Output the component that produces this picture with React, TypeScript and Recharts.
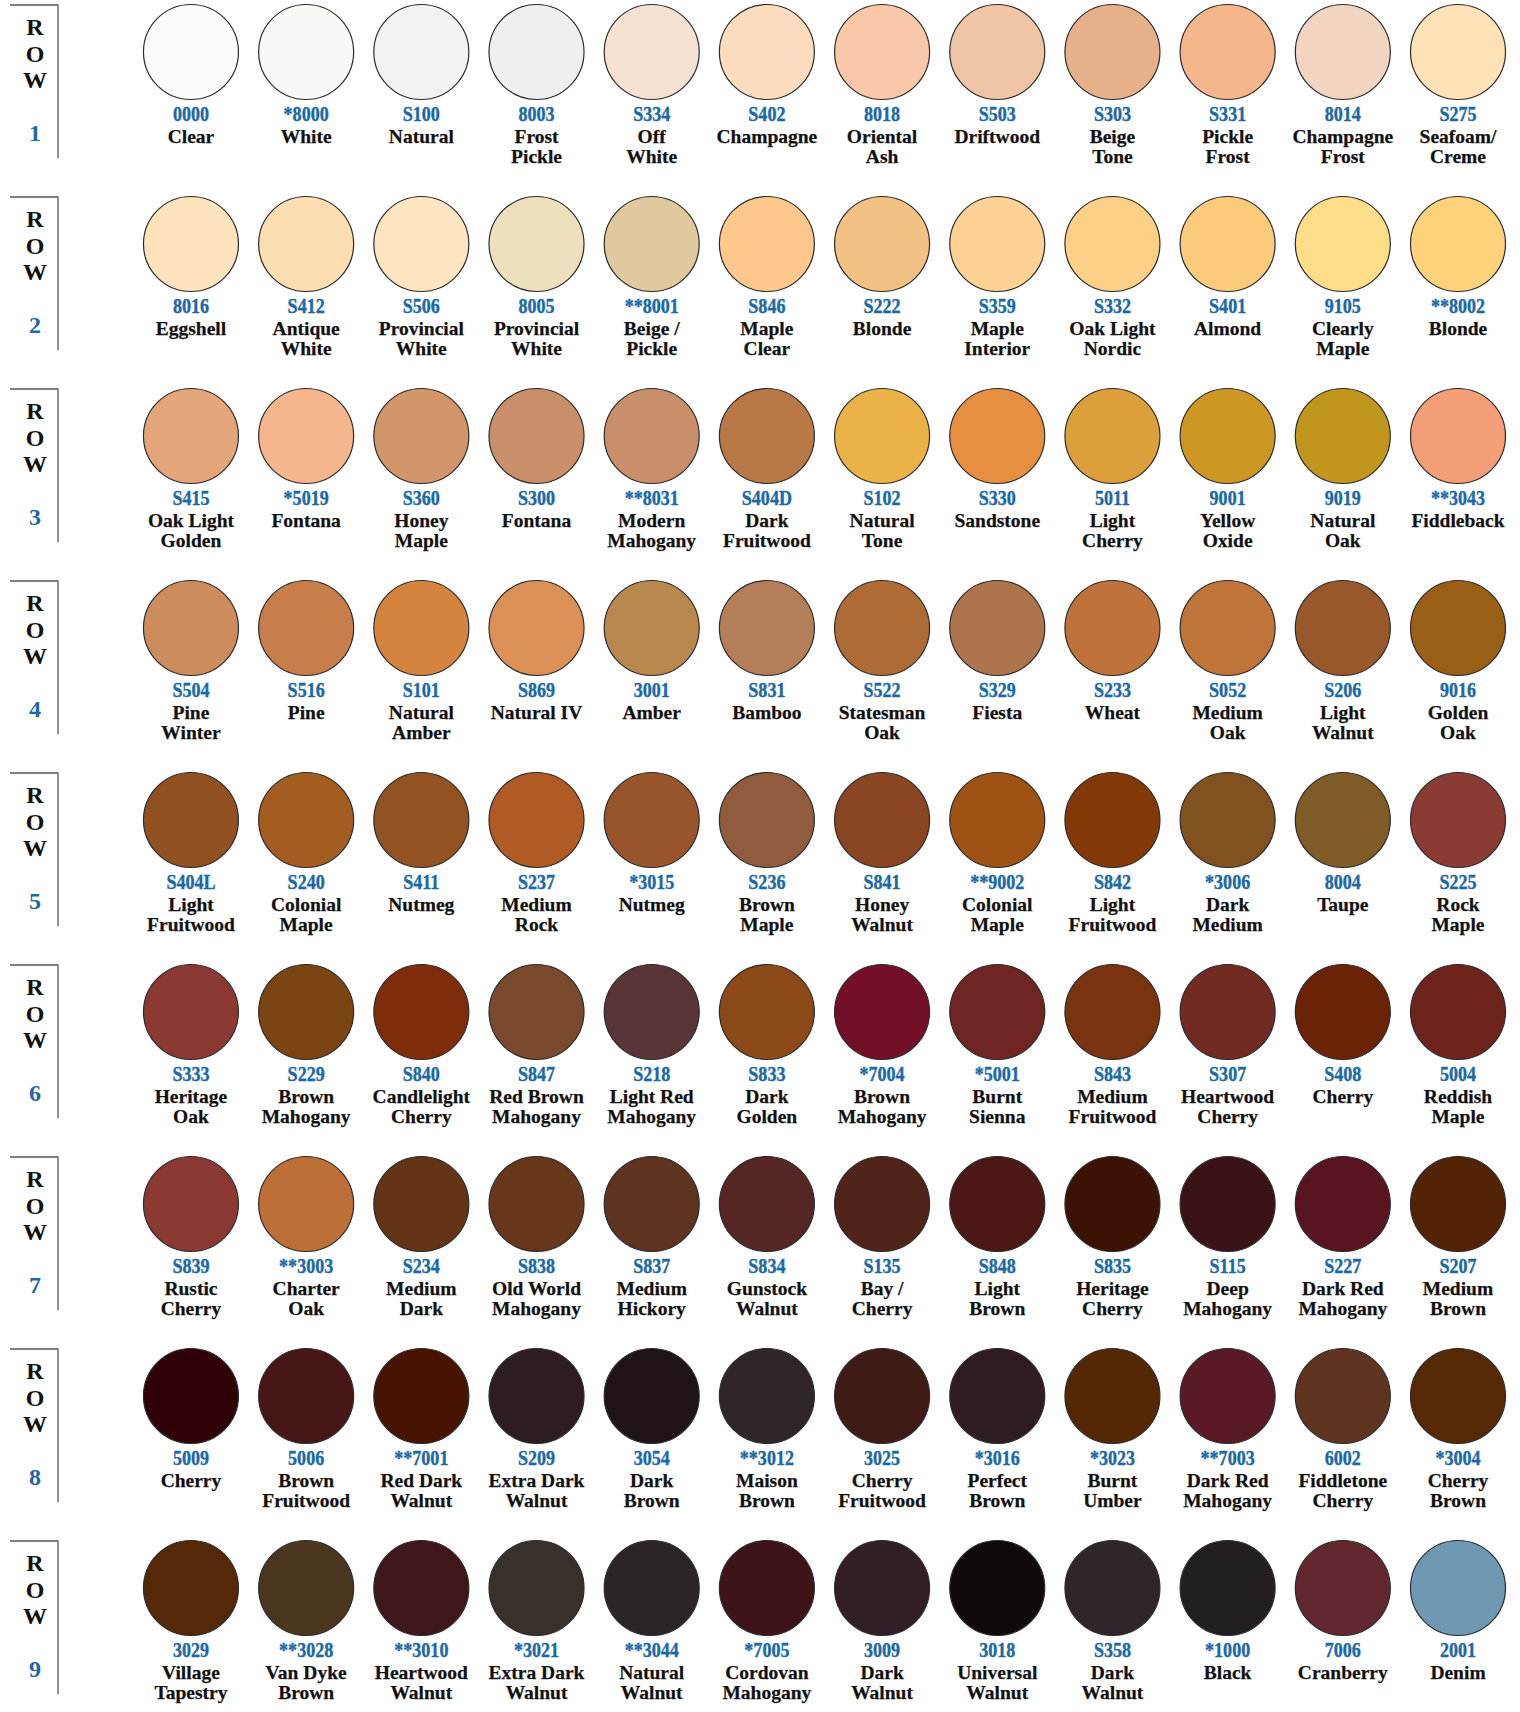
import React from 'react';
import { ScatterChart, Scatter, XAxis, YAxis } from 'recharts';

// stain swatch codes, one array per row of the card
const rowNumbers = [1, 2, 3, 4, 5, 6, 7, 8, 9];

const codes = [
  ['0000', '*8000', 'S100', '8003', 'S334', 'S402', '8018', 'S503', 'S303', 'S331', '8014', 'S275'],
  ['8016', 'S412', 'S506', '8005', '**8001', 'S846', 'S222', 'S359', 'S332', 'S401', '9105', '**8002'],
  ['S415', '*5019', 'S360', 'S300', '**8031', 'S404D', 'S102', 'S330', '5011', '9001', '9019', '**3043'],
  ['S504', 'S516', 'S101', 'S869', '3001', 'S831', 'S522', 'S329', 'S233', 'S052', 'S206', '9016'],
  ['S404L', 'S240', 'S411', 'S237', '*3015', 'S236', 'S841', '**9002', 'S842', '*3006', '8004', 'S225'],
  ['S333', 'S229', 'S840', 'S847', 'S218', 'S833', '*7004', '*5001', 'S843', 'S307', 'S408', '5004'],
  ['S839', '**3003', 'S234', 'S838', 'S837', 'S834', 'S135', 'S848', 'S835', 'S115', 'S227', 'S207'],
  ['5009', '5006', '**7001', 'S209', '3054', '**3012', '3025', '*3016', '*3023', '**7003', '6002', '*3004'],
  ['3029', '**3028', '**3010', '*3021', '**3044', '*7005', '3009', '3018', 'S358', '*1000', '7006', '2001'],
];

const names = [
  ['Clear', 'White', 'Natural', 'Frost\nPickle', 'Off\nWhite', 'Champagne', 'Oriental\nAsh', 'Driftwood', 'Beige\nTone', 'Pickle\nFrost', 'Champagne\nFrost', 'Seafoam/\nCreme'],
  ['Eggshell', 'Antique\nWhite', 'Provincial\nWhite', 'Provincial\nWhite', 'Beige /\nPickle', 'Maple\nClear', 'Blonde', 'Maple\nInterior', 'Oak Light\nNordic', 'Almond', 'Clearly\nMaple', 'Blonde'],
  ['Oak Light\nGolden', 'Fontana', 'Honey\nMaple', 'Fontana', 'Modern\nMahogany', 'Dark\nFruitwood', 'Natural\nTone', 'Sandstone', 'Light\nCherry', 'Yellow\nOxide', 'Natural\nOak', 'Fiddleback'],
  ['Pine\nWinter', 'Pine', 'Natural\nAmber', 'Natural IV', 'Amber', 'Bamboo', 'Statesman\nOak', 'Fiesta', 'Wheat', 'Medium\nOak', 'Light\nWalnut', 'Golden\nOak'],
  ['Light\nFruitwood', 'Colonial\nMaple', 'Nutmeg', 'Medium\nRock', 'Nutmeg', 'Brown\nMaple', 'Honey\nWalnut', 'Colonial\nMaple', 'Light\nFruitwood', 'Dark\nMedium', 'Taupe', 'Rock\nMaple'],
  ['Heritage\nOak', 'Brown\nMahogany', 'Candlelight\nCherry', 'Red Brown\nMahogany', 'Light Red\nMahogany', 'Dark\nGolden', 'Brown\nMahogany', 'Burnt\nSienna', 'Medium\nFruitwood', 'Heartwood\nCherry', 'Cherry', 'Reddish\nMaple'],
  ['Rustic\nCherry', 'Charter\nOak', 'Medium\nDark', 'Old World\nMahogany', 'Medium\nHickory', 'Gunstock\nWalnut', 'Bay /\nCherry', 'Light\nBrown', 'Heritage\nCherry', 'Deep\nMahogany', 'Dark Red\nMahogany', 'Medium\nBrown'],
  ['Cherry', 'Brown\nFruitwood', 'Red Dark\nWalnut', 'Extra Dark\nWalnut', 'Dark\nBrown', 'Maison\nBrown', 'Cherry\nFruitwood', 'Perfect\nBrown', 'Burnt\nUmber', 'Dark Red\nMahogany', 'Fiddletone\nCherry', 'Cherry\nBrown'],
  ['Village\nTapestry', 'Van Dyke\nBrown', 'Heartwood\nWalnut', 'Extra Dark\nWalnut', 'Natural\nWalnut', 'Cordovan\nMahogany', 'Dark\nWalnut', 'Universal\nWalnut', 'Dark\nWalnut', 'Black', 'Cranberry', 'Denim'],
];

const swatches = [
  ['#fbfbf9', '#f8f9f4', '#f1f2f4', '#efefef', '#f4e1d1', '#fcdcbf', '#fac8a9', '#efc5a5', '#e6b08b', '#f5b68c', '#f1d5c0', '#fde1b7'],
  ['#fde3bb', '#fddeb0', '#fee5c2', '#ede0bc', '#e1c99f', '#fec88c', '#f2c183', '#fdd294', '#fecf87', '#fcca7b', '#fedd88', '#fdd27b'],
  ['#e4a57a', '#f5b58d', '#d3956a', '#c98e6a', '#c98e6a', '#b97947', '#ebb247', '#e78f40', '#dd9e3c', '#cc9722', '#c0961c', '#f49e77'],
  ['#cc8c5c', '#c87e4a', '#d5843f', '#db9055', '#b8884f', '#b47f58', '#af6b35', '#ae744c', '#bf7239', '#bf7439', '#99582c', '#9a5f17'],
  ['#905020', '#a35d20', '#925222', '#b05a24', '#98542b', '#915c3e', '#8a4523', '#9e5214', '#833907', '#81521f', '#7f5b27', '#8a3b33'],
  ['#8b3a33', '#7a4512', '#7f2c0b', '#7a4a2e', '#5a3538', '#8b4a18', '#730f29', '#6f2622', '#7a330f', '#712b22', '#6a2306', '#6e231c'],
  ['#8b3a33', '#bc6f37', '#633415', '#66371a', '#5e3320', '#552623', '#512419', '#4c1816', '#3c1204', '#3c1219', '#591422', '#522306'],
  ['#2e0208', '#471616', '#461400', '#2d1d22', '#1e1317', '#2f2629', '#3f1b16', '#2f1c23', '#552805', '#591926', '#5f3521', '#552905'],
  ['#552807', '#4c351e', '#3e161c', '#38302b', '#2c2528', '#3e1319', '#311e26', '#110a0c', '#2e252a', '#231f20', '#63272f', '#6f99b3'],
];

const FONT = '"Liberation Serif", "Times New Roman", serif';
const BLUE = '#1b69a6';
const LABEL_COL = -0.354; // x position of the "ROW n" column, in column units

const swatchData = rowNumbers.flatMap((row, r) =>
  codes[r].map((code, c) => ({
    row,
    col: c + 1,
    code,
    name: names[r][c],
    color: swatches[r][c],
  }))
);

const labelData = rowNumbers.map((row) => ({ row, col: LABEL_COL }));

const Swatch = (props: any) => {
  const { cx, cy, payload } = props;
  const lines: string[] = payload.name.split('\n');
  return (
    <g>
      <circle cx={cx} cy={cy} r={47.5} fill={payload.color} stroke="#2b2b2b" strokeWidth={1.2} />
      <text
        transform={`translate(${cx}, ${cy + 69}) scale(0.86, 1)`}
        textAnchor="middle"
        fontFamily={FONT}
        fontWeight="bold"
        fontSize={21}
        fill={BLUE}
        stroke={BLUE}
        strokeWidth={0.4}
      >
        {payload.code}
      </text>
      {lines.map((ln, i) => (
        <text
          key={i}
          x={cx}
          y={cy + 91 + i * 19.5}
          textAnchor="middle"
          fontFamily={FONT}
          fontWeight="bold"
          fontSize={19.5}
          fill="#111"
          stroke="#111"
          strokeWidth={0.25}
        >
          {ln}
        </text>
      ))}
    </g>
  );
};

const RowLabel = (props: any) => {
  const { cx, cy, payload } = props;
  const letters = ['R', 'O', 'W'];
  return (
    <g>
      <polyline
        points={`${cx - 25},${cy - 47} ${cx + 23},${cy - 47} ${cx + 23},${cy + 106}`}
        fill="none"
        stroke="#555"
        strokeWidth={1.3}
      />
      {letters.map((l, i) => (
        <text
          key={l}
          x={cx}
          y={cy - 17 + i * 26.5}
          textAnchor="middle"
          fontFamily={FONT}
          fontWeight="bold"
          fontSize={24}
          fill="#111"
        >
          {l}
        </text>
      ))}
      <text
        x={cx}
        y={cy + 89}
        textAnchor="middle"
        fontFamily={FONT}
        fontWeight="bold"
        fontSize={24}
        fill={BLUE}
      >
        {payload.row}
      </text>
    </g>
  );
};

export default function App() {
  return (
    <div style={{ position: 'absolute', left: 0, top: 0, width: 1520, height: 1712, background: '#fff' }}>
      <ScatterChart width={1520} height={1712} margin={{ top: 52, right: 62, bottom: 124, left: 35 }}>
        <XAxis type="number" dataKey="col" domain={[LABEL_COL, 12]} hide />
        <YAxis type="number" dataKey="row" domain={[1, 9]} reversed hide />
        <Scatter data={labelData} shape={RowLabel} isAnimationActive={false} />
        <Scatter data={swatchData} shape={Swatch} isAnimationActive={false} />
      </ScatterChart>
    </div>
  );
}
